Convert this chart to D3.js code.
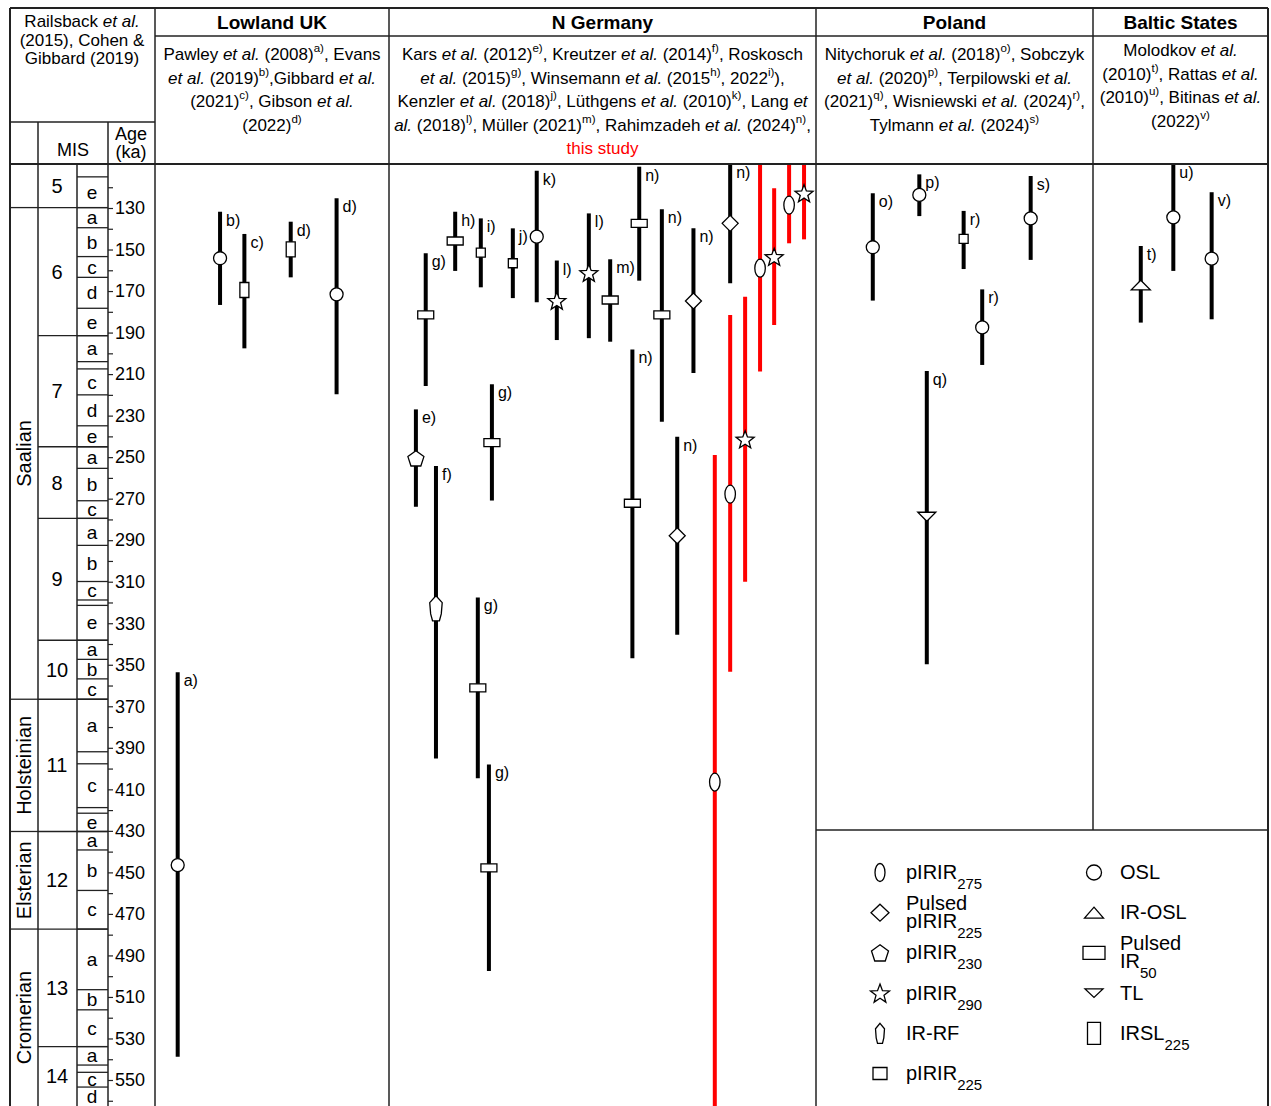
<!doctype html>
<html>
<head>
<meta charset="UTF-8">
<title>Saalian luminescence ages</title>
<script src="https://cdn.jsdelivr.net/npm/d3@7/dist/d3.min.js"></script>
<style>
  body { margin: 0; background: #fff; }
  text { font-family: "Liberation Sans", Arial, sans-serif; fill: #000; }
</style>
</head>
<body>
<script>
  // ---- data -------------------------------------------------------------
  var tickLabels = [130, 150, 170, 190, 210, 230, 250, 270, 290, 310, 330, 350, 370, 390, 410, 430, 450, 470, 490, 510, 530, 550];
  var minorTicks = [120, 140, 160, 180, 200, 220, 240, 260, 280, 300, 320, 340, 360, 380, 400, 420, 440, 460, 480, 500, 520, 540, 560];

  var stageNames = ["", "Saalian", "Holsteinian", "Elsterian", "Cromerian"];
  var stageBounds = [100, 129.8, 366.6, 430.3, 477.3, 563];

  var misNames = ["5", "6", "7", "8", "9", "10", "11", "12", "13", "14"];
  var misBounds = [100, 129.8, 191.5, 245, 279.5, 338.2, 366.6, 430.3, 477.3, 533.9, 563];

  var subNames = ["", "e", "a", "b", "c", "d", "e", "a", "", "c", "d", "e", "a", "b", "c",
                  "a", "b", "c", "", "e", "a", "b", "c", "a", "", "c", "", "e", "a", "b", "c",
                  "a", "b", "c", "a", "", "c", "d"];
  var subBounds = [100, 115, 129.8, 139.5, 153.4, 163.4, 178.3, 191.5, 204, 207.5, 220, 234.9, 245,
                   255.4, 271, 279.5, 292.5, 309.9, 318.8, 321.4, 338.2, 347.4, 356.8, 366.6, 391.9,
                   397.7, 418.8, 421.5, 430.3, 439.2, 458.7, 477.3, 506.5, 516.2, 533.9, 542.8, 546.3,
                   553.4, 563];

  var regionNames = ["Lowland UK", "N Germany", "Poland", "Baltic States"];
  var regionRefs = [
    ["Pawley _et al._ (2008)^a)^, Evans", "_et al._ (2019)^b)^,Gibbard _et al._", "(2021)^c)^, Gibson _et al._", "(2022)^d)^"],
    ["Kars _et al._ (2012)^e)^, Kreutzer _et al._ (2014)^f)^, Roskosch",
     "_et al._ (2015)^g)^, Winsemann _et al._ (2015^h)^, 2022^i)^),",
     "Kenzler _et al._ (2018)^j)^, Lüthgens _et al._ (2010)^k)^, Lang _et_",
     "_al._ (2018)^l)^, Müller (2021)^m)^, Rahimzadeh _et al._ (2024)^n)^,",
     "{this study}"],
    ["Nitychoruk _et al._ (2018)^o)^, Sobczyk", "_et al._ (2020)^p)^, Terpilowski _et al._",
     "(2021)^q)^, Wisniewski _et al._ (2024)^r)^,", "Tylmann _et al._ (2024)^s)^"],
    ["Molodkov _et al._", "(2010)^t)^, Rattas _et al._", "(2010)^u)^, Bitinas _et al._", "(2022)^v)^"]
  ];

  // col = slot across the region panel (0-100), from/to = age range (ka), age = central age
  var lowlandUK = [
    {ref: "a)", col: 9.7, from: 353.6, to: 538.8, age: 446.5, method: "OSL"},
    {ref: "b)", col: 27.8, from: 131.8, to: 176.7, age: 154.2, method: "OSL"},
    {ref: "c)", col: 38.2, from: 142.5, to: 197.6, age: 169.5, method: "IRSL225"},
    {ref: "d)", col: 58.0, from: 136.6, to: 163.4, age: 149.9, method: "IRSL225"},
    {ref: "d)", col: 77.6, from: 125.3, to: 219.7, age: 171.6, method: "OSL"}
  ];
  var nGermany = [
    {ref: "e)", col: 6.3, from: 227, to: 273.9, age: 250.6, method: "pIRIR230"},
    {ref: "g)", col: 8.6, from: 151.8, to: 215.7, age: 181.5, method: "PulsedIR50"},
    {ref: "f)", col: 11.0, from: 254.3, to: 395.1, age: 322.8, method: "IRRF"},
    {ref: "h)", col: 15.5, from: 131.8, to: 160.3, age: 145.9, method: "PulsedIR50"},
    {ref: "g)", col: 20.8, from: 317.6, to: 404.7, age: 361.1, method: "PulsedIR50"},
    {ref: "i)", col: 21.5, from: 135, to: 168.2, age: 151.5, method: "pIRIR225"},
    {ref: "g)", col: 23.4, from: 398, to: 497.5, age: 447.8, method: "PulsedIR50"},
    {ref: "g)", col: 24.1, from: 214.9, to: 270.9, age: 243, method: "PulsedIR50"},
    {ref: "j)", col: 29.0, from: 139.8, to: 173.4, age: 156.6, method: "pIRIR225"},
    {ref: "k)", col: 34.6, from: 112, to: 175.4, age: 143.8, method: "OSL"},
    {ref: "l)", col: 39.3, from: 155.3, to: 193.6, age: 174.6, method: "pIRIR290"},
    {ref: "l)", col: 46.8, from: 132.6, to: 192.7, age: 161.2, method: "pIRIR290"},
    {ref: "m)", col: 51.8, from: 154.7, to: 194.4, age: 174.3, method: "PulsedIR50"},
    {ref: "n)", col: 57.0, from: 198.1, to: 346.9, age: 272.2, method: "PulsedIR50"},
    {ref: "n)", col: 58.6, from: 110.1, to: 165, age: 137.4, method: "PulsedIR50"},
    {ref: "n)", col: 63.9, from: 130.6, to: 232.9, age: 181.5, method: "PulsedIR50"},
    {ref: "n)", col: 67.5, from: 240.2, to: 335.6, age: 287.9, method: "PulsedpIRIR225"},
    {ref: "n)", col: 71.3, from: 139.8, to: 209.5, age: 174.8, method: "PulsedpIRIR225"},
    {ref: "n)", col: 79.9, from: 100, to: 166.2, age: 137.4, method: "PulsedpIRIR225"}
  ];
  var thisStudy = [
    {col: 76.3, from: 249, to: 600, age: 406.5, method: "pIRIR275"},
    {col: 79.9, from: 181.5, to: 353.4, age: 267.8, method: "pIRIR275"},
    {col: 83.4, from: 172.7, to: 310, age: 241.4, method: "pIRIR290"},
    {col: 86.9, from: 100, to: 208.8, age: 159, method: "pIRIR275"},
    {col: 90.2, from: 120.5, to: 186.4, age: 153.5, method: "pIRIR290"},
    {col: 93.7, from: 100, to: 147, age: 128.6, method: "pIRIR275"},
    {col: 97.2, from: 100, to: 145.1, age: 122.9, method: "pIRIR290"}
  ];
  var poland = [
    {ref: "o)", col: 20.5, from: 122.9, to: 174.6, age: 148.9, method: "OSL"},
    {ref: "p)", col: 37.3, from: 113.8, to: 133.9, age: 123.7, method: "OSL"},
    {ref: "q)", col: 40.0, from: 208.5, to: 349.7, age: 278.7, method: "TL"},
    {ref: "r)", col: 53.3, from: 131.4, to: 159.4, age: 144.9, method: "pIRIR225"},
    {ref: "r)", col: 60.0, from: 169.2, to: 205.6, age: 187.5, method: "OSL"},
    {ref: "s)", col: 77.5, from: 114.6, to: 155, age: 135, method: "OSL"}
  ];
  var baltic = [
    {ref: "t)", col: 27.3, from: 148.3, to: 185.2, age: 167.1, method: "IROSL"},
    {ref: "u)", col: 45.9, from: 100, to: 160.3, age: 134.5, method: "OSL"},
    {ref: "v)", col: 67.8, from: 122.4, to: 183.6, age: 154.4, method: "OSL"}
  ];

  var legendLeft = ["pIRIR275", "PulsedpIRIR225", "pIRIR230", "pIRIR290", "IRRF", "pIRIR225"];
  var legendRight = ["OSL", "IROSL", "PulsedIR50", "TL", "IRSL225"];
  var legendText = {
    pIRIR275: ["pIRIR~275~"], PulsedpIRIR225: ["Pulsed", "pIRIR~225~"], pIRIR230: ["pIRIR~230~"],
    pIRIR290: ["pIRIR~290~"], IRRF: ["IR-RF"], pIRIR225: ["pIRIR~225~"],
    OSL: ["OSL"], IROSL: ["IR-OSL"], PulsedIR50: ["Pulsed", "IR~50~"], TL: ["TL"], IRSL225: ["IRSL~225~"]
  };

  // ---- layout -------------------------------------------------------------
  var W = 1271, H = 1106;
  var bodyTop = 164;
  var edges = [155, 389, 816, 1093, 1268];
  var lineCol = "#222";
  var red = "#ff0000";

  var svg = d3.select("body").append("svg").attr("width", W).attr("height", H);
  var y = d3.scaleLinear().domain([130, 550]).range([208, 1080]);

  function regionX(i) {
    return d3.scaleLinear().domain([0, 100]).range([edges[i], edges[i + 1]]);
  }

  // rich text: _italic_, ^superscript^, ~subscript~, {red}
  function richText(g, str, x, yb, size, anchor) {
    var t = g.append("text").attr("x", x).attr("y", yb)
      .attr("font-size", size).attr("text-anchor", anchor || "middle");
    var parts = str.split(/(_[^_]+_|\^[^\^]+\^|~[^~]+~|\{[^}]+\})/).filter(function(s) { return s !== ""; });
    var cur = 0;
    parts.forEach(function(p) {
      var s = t.append("tspan"), target = 0, txt = p;
      if (p[0] === "_") { txt = p.slice(1, -1); s.attr("font-style", "italic"); }
      else if (p[0] === "^") { txt = p.slice(1, -1); s.attr("font-size", size * 0.68); target = -size * 0.45; }
      else if (p[0] === "~") { txt = p.slice(1, -1); s.attr("font-size", size * 0.75); target = size * 0.5; }
      else if (p[0] === "{") { txt = p.slice(1, -1); s.style("fill", red); }
      if (target !== cur) s.attr("dy", target - cur);
      cur = target;
      s.text(txt);
    });
    return t;
  }

  function poly(pts) {
    return "M" + pts.map(function(p) { return p[0].toFixed(2) + "," + p[1].toFixed(2); }).join("L") + "Z";
  }

  var chartSize = {OSL: [13, 13], pIRIR275: [10.5, 18], PulsedpIRIR225: [16, 16], pIRIR230: [16, 15],
    pIRIR290: [18, 17], IRRF: [12.5, 25], pIRIR225: [9, 9], PulsedIR50: [16, 8], IRSL225: [9, 15],
    IROSL: [19, 9.5], TL: [18, 9]};
  var legendSize = {OSL: [15, 15], pIRIR275: [10, 18], PulsedpIRIR225: [18, 17], pIRIR230: [17, 15],
    pIRIR290: [19, 18], IRRF: [9, 20], pIRIR225: [14, 12], PulsedIR50: [22, 13], IRSL225: [13, 22],
    IROSL: [19, 11], TL: [18, 8.5]};

  function shapePath(m, sz) {
    var a = sz[0] / 2, b = sz[1] / 2, pts = [], i;
    switch (m) {
      case "OSL":
      case "pIRIR275":
        return "M" + (-a) + ",0A" + a + "," + b + " 0 1,0 " + a + ",0A" + a + "," + b + " 0 1,0 " + (-a) + ",0Z";
      case "PulsedpIRIR225":
        return poly([[0, -b], [a, 0], [0, b], [-a, 0]]);
      case "pIRIR230":
        var R = a / 0.951;
        for (i = 0; i < 5; i++) {
          var ang = -Math.PI / 2 + i * 2 * Math.PI / 5;
          pts.push([R * Math.cos(ang), R * Math.sin(ang) + R * 0.095]);
        }
        return poly(pts);
      case "pIRIR290":
        var Ro = a / 0.951, Ri = Ro * 0.42;
        for (i = 0; i < 10; i++) {
          var an = -Math.PI / 2 + i * Math.PI / 5, rr = i % 2 ? Ri : Ro;
          pts.push([rr * Math.cos(an), rr * Math.sin(an) + Ro * 0.095]);
        }
        return poly(pts);
      case "IRRF":
        return poly([[0, -b], [a, -b * 0.45], [a * 0.85, b * 0.45], [a * 0.55, b], [-a * 0.55, b], [-a * 0.85, b * 0.45], [-a, -b * 0.45]]);
      case "IROSL":
        return poly([[0, -b], [a, b], [-a, b]]);
      case "TL":
        return poly([[-a, -b], [a, -b], [0, b]]);
      default: // rectangles
        return poly([[-a, -b], [a, -b], [a, b], [-a, b]]);
    }
  }

  // ---- headers ----------------------------------------------------------
  var head = svg.append("g");
  ["Railsback _et al._", "(2015), Cohen &", "Gibbard (2019)"].forEach(function(s, i) {
    richText(head, s, 82, 27 + i * 18.5, 17);
  });
  richText(head, "MIS", 73, 156, 18);
  richText(head, "Age", 131, 140, 18);
  richText(head, "(ka)", 131, 158, 18);

  regionNames.forEach(function(name, i) {
    var cx = (edges[i] + edges[i + 1]) / 2;
    head.append("text").attr("x", cx).attr("y", 29).attr("text-anchor", "middle")
      .attr("font-size", 19).attr("font-weight", "bold").text(name);
    var top = i === 3 ? 56 : 60;
    regionRefs[i].forEach(function(s, j) {
      richText(head, s, cx, top + j * 23.5, 17);
    });
  });

  // ---- stratigraphic column ---------------------------------------------
  var strat = svg.append("g");
  function cellMid(bounds, i) {
    return (Math.max(y(bounds[i]), bodyTop) + Math.min(y(bounds[i + 1]), H)) / 2;
  }
  stageNames.forEach(function(n, i) {
    var m = cellMid(stageBounds, i);
    strat.append("text").attr("transform", "translate(24," + m + ") rotate(-90)")
      .attr("text-anchor", "middle").attr("dy", "0.35em").attr("font-size", 20).text(n);
  });
  misNames.forEach(function(n, i) {
    strat.append("text").attr("x", 57).attr("y", cellMid(misBounds, i)).attr("dy", "0.35em")
      .attr("text-anchor", "middle").attr("font-size", 20).text(n);
  });
  subNames.forEach(function(n, i) {
    strat.append("text").attr("x", 92).attr("y", cellMid(subBounds, i)).attr("dy", "0.35em")
      .attr("text-anchor", "middle").attr("font-size", 19).text(n);
  });

  var axis = d3.axisRight(y).tickValues(minorTicks.concat(tickLabels)).tickSize(5).tickPadding(2)
    .tickFormat(function(d) { return tickLabels.indexOf(d) >= 0 ? d : ""; });
  var ga = svg.append("g").attr("transform", "translate(108,0)").call(axis);
  ga.attr("font-size", 18).attr("font-family", null);
  ga.select(".domain").remove();
  ga.selectAll(".tick line").attr("stroke", lineCol).attr("stroke-width", 1.2);
  ga.selectAll(".tick text").attr("fill", "#000");

  // ---- table lines -------------------------------------------------------
  var grid = svg.append("g").attr("stroke", lineCol).attr("fill", "none");
  function hline(x1, x2, yy, w) {
    grid.append("line").attr("x1", x1).attr("x2", x2).attr("y1", yy).attr("y2", yy).attr("stroke-width", w || 1.5);
  }
  function vline(xx, y1, y2, w) {
    grid.append("line").attr("x1", xx).attr("x2", xx).attr("y1", y1).attr("y2", y2).attr("stroke-width", w || 1.5);
  }
  hline(10, 1268, 8, 2);
  hline(155, 1268, 36);
  hline(10, 155, 122);
  hline(10, 1268, bodyTop, 2);
  hline(816, 1268, 830);
  vline(10, 8, H + 2, 2);
  vline(1268, 8, H + 2, 2);
  [155, 389, 816].forEach(function(xx) { vline(xx, 8, H + 2); });
  vline(1093, 8, 830);
  vline(38, 122, H + 2);
  vline(108, 122, H + 2);
  vline(77, bodyTop, H + 2);
  stageBounds.slice(1, -1).forEach(function(a) { hline(10, 38, y(a), 1.3); });
  misBounds.slice(1, -1).forEach(function(a) { hline(38, 108, y(a), 1.3); });
  subBounds.slice(1, -1).forEach(function(a) { hline(77, 108, y(a), 1.3); });

  // ---- age ranges ---------------------------------------------------------
  svg.append("clipPath").attr("id", "body").append("rect")
    .attr("x", 155).attr("y", bodyTop + 1).attr("width", 1113).attr("height", H - bodyTop);
  var plot = svg.append("g").attr("clip-path", "url(#body)");

  function drawRanges(data, region, colour) {
    var x = regionX(region);
    var g = plot.append("g");
    g.selectAll("line").data(data).enter().append("line")
      .attr("x1", function(d) { return x(d.col); })
      .attr("x2", function(d) { return x(d.col); })
      .attr("y1", function(d) { return y(d.from); })
      .attr("y2", function(d) { return y(d.to); })
      .attr("stroke", colour).attr("stroke-width", 4);
    g.selectAll("path").data(data).enter().append("path")
      .attr("d", function(d) { return shapePath(d.method, chartSize[d.method]); })
      .attr("transform", function(d) { return "translate(" + x(d.col) + "," + y(d.age) + ")"; })
      .attr("fill", "#fff").attr("stroke", "#000").attr("stroke-width", 1.3);
    g.selectAll("text").data(data.filter(function(d) { return d.ref; })).enter().append("text")
      .attr("x", function(d) { return x(d.col) + 6; })
      .attr("y", function(d) { return Math.max(y(d.from), bodyTop) + 14; })
      .attr("font-size", 16)
      .text(function(d) { return d.ref; });
  }
  drawRanges(lowlandUK, 0, "#000");
  drawRanges(nGermany, 1, "#000");
  drawRanges(thisStudy, 1, red);
  drawRanges(poland, 2, "#000");
  drawRanges(baltic, 3, "#000");

  // ---- legend -------------------------------------------------------------
  var leg = svg.append("g");
  var rowY = d3.scalePoint().domain(d3.range(6)).range([872.5, 1073.5]);
  function legendColumn(list, sx, tx) {
    list.forEach(function(m, i) {
      var cy = rowY(i);
      leg.append("path").attr("d", shapePath(m, legendSize[m]))
        .attr("transform", "translate(" + sx + "," + cy + ")")
        .attr("fill", "#fff").attr("stroke", "#000").attr("stroke-width", 1.3);
      var lines = legendText[m];
      if (lines.length === 1) {
        richText(leg, lines[0], tx, cy + 6.5, 20, "start");
      } else {
        richText(leg, lines[0], tx, cy - 3, 20, "start");
        richText(leg, lines[1], tx, cy + 15.5, 20, "start");
      }
    });
  }
  legendColumn(legendLeft, 880, 906);
  legendColumn(legendRight, 1094, 1120);
</script>
</body>
</html>
